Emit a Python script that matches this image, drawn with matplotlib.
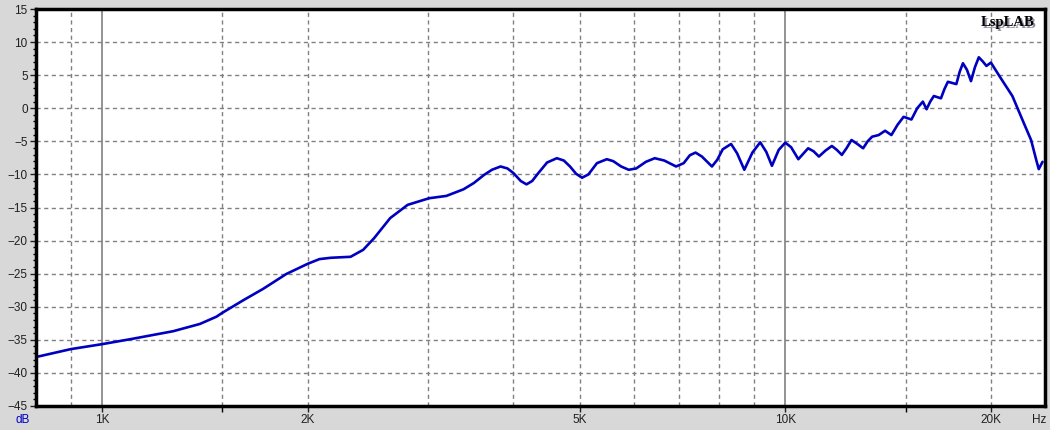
import matplotlib
matplotlib.use("Agg")
import matplotlib.pyplot as plt
from matplotlib.ticker import FixedLocator, NullFormatter

# frequency response
freq = [800, 900, 1000, 1100, 1270, 1390, 1470, 1500, 1610, 1720, 1860, 2000,
        2080, 2160, 2310, 2410, 2500, 2640, 2800, 3010, 3190, 3380, 3500, 3620,
        3720, 3830, 3920, 4000, 4100, 4180, 4260, 4350, 4480, 4630, 4740, 4840,
        4940, 5040, 5150, 5300, 5480, 5600, 5750, 5900, 6050, 6250, 6440, 6650,
        6920, 7100, 7250, 7390, 7550, 7810, 7950, 8100, 8330, 8500, 8710, 8950,
        9190, 9380, 9560, 9780, 10000, 10200, 10450, 10800, 11000, 11200, 11450,
        11700, 11900, 12100, 12300, 12500, 12750, 13000, 13200, 13400, 13700,
        14000, 14300, 14600, 14900, 15300, 15600, 15900, 16100, 16300, 16500,
        16900, 17100, 17300, 17800, 18000, 18200, 18450, 18700, 18950, 19200,
        19450, 19700, 20000, 20600, 21500, 22400, 22900, 23300, 23500, 23800]
level = [-37.6, -36.4, -35.65, -34.9, -33.7, -32.6, -31.5, -30.9, -29.0, -27.3,
         -25.05, -23.5, -22.8, -22.6, -22.45, -21.4, -19.65, -16.6, -14.6, -13.6,
         -13.25, -12.25, -11.3, -10.1, -9.3, -8.8, -9.1, -9.8, -11.0, -11.5,
         -11.0, -9.8, -8.2, -7.55, -7.9, -8.8, -9.9, -10.5, -10.0, -8.3, -7.7,
         -8.0, -8.8, -9.3, -9.1, -8.1, -7.55, -7.9, -8.8, -8.3, -7.1, -6.7, -7.3,
         -8.8, -7.8, -6.2, -5.4, -6.8, -9.3, -6.7, -5.15, -6.6, -8.7, -6.3, -5.2,
         -5.9, -7.7, -6.05, -6.5, -7.3, -6.4, -5.7, -6.3, -7.05, -6.0, -4.8, -5.4,
         -6.05, -5.0, -4.3, -4.05, -3.4, -4.05, -2.5, -1.3, -1.7, 0.0, 1.0, -0.15,
         1.0, 1.85, 1.5, 2.9, 4.0, 3.65, 5.5, 6.8, 5.8, 4.1, 6.2, 7.7, 7.1, 6.4,
         6.9, 4.8, 1.85, -2.5, -4.8, -7.8, -9.2, -8.1]

xticks = [1000, 2000, 5000, 10000, 20000]
xlabels = ["1K", "2K", "5K", "10K", "20K"]
grid_freqs = [900, 1500, 2000, 3000, 4000, 5000, 6000, 7000, 8000, 9000, 15000, 20000]
solid_freqs = [1000, 10000]
yticks = list(range(-45, 16, 5))

bg = "#d8d8d8"
fig = plt.figure(figsize=(10.5, 4.3), dpi=100, facecolor=bg)
ax = fig.add_axes([36 / 1050, 24 / 430, 1009 / 1050, 397 / 430])
ax.set_facecolor("white")
ax.set_xscale("log")
ax.set_xlim(800, 24000)
ax.set_ylim(-45, 15)

# grid
for y in yticks[1:-1]:
    ax.axhline(y, color="#808080", lw=1, ls=(0, (3, 2.5)), zorder=1)
for f in grid_freqs:
    ax.axvline(f, color="#808080", lw=1, ls=(0, (3, 2.5)), zorder=1)
for f in solid_freqs:
    ax.axvline(f, color="#808080", lw=1.2, zorder=1)

ax.plot(freq, level, color="#0000c0", lw=1.9, zorder=3,
        solid_joinstyle="round", solid_capstyle="round")

# ticks
ax.xaxis.set_major_locator(FixedLocator(xticks))
ax.set_xticklabels(xlabels)
ax.xaxis.set_minor_locator(FixedLocator([1500, 15000]))
ax.xaxis.set_minor_formatter(NullFormatter())
ax.set_yticks(yticks)
ax.yaxis.set_minor_locator(FixedLocator(range(-45, 16)))
ax.tick_params(axis="both", which="major", length=4, width=1, direction="out",
               labelsize=8.5, colors="#202020", pad=2)
ax.tick_params(axis="y", which="minor", length=2.5, width=1, direction="out")
ax.tick_params(axis="x", which="minor", length=4, width=1, direction="out")
for lab in ax.get_xticklabels() + ax.get_yticklabels():
    lab.set_fontfamily("Liberation Sans")
for s in ax.spines.values():
    s.set_linewidth(2.5)
    s.set_color("black")
    s.set_zorder(5)

fig.text(15 / 1050, 1 - 420 / 430, "dB", color="#0000c8", fontsize=8.5,
         family="Liberation Sans", va="center")
fig.text(1032 / 1050, 1 - 420 / 430, "Hz", color="#202020", fontsize=8.5,
         family="Liberation Sans", va="center")

# LspLAB logo with shadow
ax.text(0.9915, 0.962, "LspLAB", transform=ax.transAxes, ha="right", va="center",
        fontsize=10.5, fontweight="bold", family="Liberation Serif", color="#9090a0",
        zorder=6)
ax.text(0.99, 0.966, "LspLAB", transform=ax.transAxes, ha="right", va="center",
        fontsize=10.5, fontweight="bold", family="Liberation Serif", color="black",
        zorder=7)

fig.savefig("out.png", dpi=100, facecolor=bg)
